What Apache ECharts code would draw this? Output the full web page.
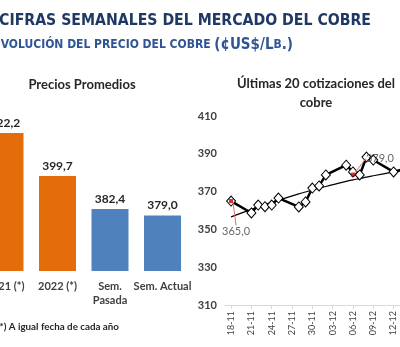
<!DOCTYPE html>
<html>
<head>
<meta charset="utf-8">
<script src="https://cdn.jsdelivr.net/npm/echarts@6/dist/echarts.min.js"></script>
<style>
  html, body { margin: 0; padding: 0; background: #fff; }
  #chart { width: 400px; height: 347px; }
</style>
</head>
<body>
<div id="chart"></div>
<script>
// Average prices (¢US$/lb)
const barCategories = ['2021 (*)', '2022 (*)', 'Sem.\nPasada', 'Sem. Actual'];
const barValues = [422.2, 399.7, 382.4, 379.0];

// Last 20 daily quotations
const quoteDates = [
  '2022-11-18', '2022-11-21', '2022-11-22', '2022-11-23', '2022-11-24', '2022-11-25',
  '2022-11-28', '2022-11-29', '2022-11-30', '2022-12-01', '2022-12-02',
  '2022-12-05', '2022-12-06', '2022-12-07', '2022-12-08', '2022-12-09',
  '2022-12-12', '2022-12-13', '2022-12-14', '2022-12-15'
];
const quoteValues = [
  365.0, 358.7, 362.9, 362.0, 362.9, 366.6,
  361.9, 364.5, 371.9, 373.0, 378.8,
  384.0, 380.4, 378.8, 388.3, 386.7,
  380.4, 381.5, 380.0, 374.0
];
// Polynomial trend of the quotations
const trendValues = [
  356.6, 360.6, 361.8, 363.1, 364.3, 365.4,
  368.8, 369.8, 370.8, 371.8, 372.7,
  375.4, 376.2, 376.9, 377.7, 378.4,
  380.4, 381.0, 381.5, 382.0
];
// Labelled reference points
const highlightDates = ['2022-11-18', '2022-12-06'];
const highlightValues = [365.0, 379.0];

const dateTicks = [
  '2022-11-18', '2022-11-21', '2022-11-24', '2022-11-27', '2022-11-30',
  '2022-12-03', '2022-12-06', '2022-12-09', '2022-12-12'
];

const DAY = 86400000;
const dayNum = s => Date.UTC(+s.slice(0, 4), +s.slice(5, 7) - 1, +s.slice(8, 10)) / DAY;
const fmt = v => v.toFixed(1).replace('.', ',');
const ddmm = n => {
  const d = new Date(Math.round(n) * DAY);
  const dd = String(d.getUTCDate()).padStart(2, '0');
  const mm = String(d.getUTCMonth() + 1).padStart(2, '0');
  return dd + '-' + mm;
};

const ORANGE = '#E46C0A';
const BLUE = '#4F81BD';
const FONT = 'Lato, "Open Sans", sans-serif';
const HEAD = '"DejaVu Sans Condensed", "DejaVu Sans", sans-serif';
const firstDay = dayNum(quoteDates[0]);
const barSlots = barCategories.map((c, i) => i);

const chart = echarts.init(document.getElementById('chart'), null, { renderer: 'canvas' });

chart.setOption({
  animation: false,
  backgroundColor: '#fff',
  textStyle: { fontFamily: FONT },
  graphic: [
    {
      type: 'text', x: 371, y: 21,
      style: {
        text: 'CIFRAS SEMANALES DEL MERCADO DEL COBRE',
        font: 'bold 15.7px ' + HEAD, fill: '#203864',
        align: 'right', verticalAlign: 'middle'
      }
    },
    {
      type: 'text', x: 293, y: 45,
      style: {
        text: '{s|EVOLUCIÓN DEL PRECIO DEL COBRE }{b|(¢US$/L}{s|B}{b|.)}',
        align: 'right', verticalAlign: 'middle',
        rich: {
          s: { font: 'bold 12px ' + HEAD, fill: '#2F5597' },
          b: { font: 'bold 15px ' + HEAD, fill: '#2F5597' }
        }
      }
    },
    {
      type: 'text', x: 82, y: 85,
      style: {
        text: 'Precios Promedios', font: 'bold 13px ' + FONT, fill: '#262626',
        align: 'center', verticalAlign: 'middle'
      }
    },
    {
      type: 'text', x: 316, y: 93,
      style: {
        text: 'Últimas 20 cotizaciones del\ncobre', font: 'bold 13px ' + FONT, fill: '#262626',
        align: 'center', verticalAlign: 'middle', lineHeight: 19
      }
    },
    {
      type: 'text', x: 119, y: 327,
      style: {
        text: '(*) A igual fecha de cada año', font: 'bold 9.8px ' + FONT, fill: '#262626',
        align: 'right', verticalAlign: 'middle'
      }
    }
  ],
  grid: [
    { left: 0, width: 200, top: 99, height: 172, outerBoundsMode: 'none' },
    { left: 225, right: 0, top: 116, height: 189, outerBoundsMode: 'none' }
  ],
  xAxis: [
    {
      type: 'value', gridIndex: 0, min: -0.095, max: 3.714,
      splitLine: { show: false }, axisLine: { show: false }, axisTick: { show: false },
      axisLabel: {
        customValues: barSlots,
        formatter: v => barCategories[Math.round(v)],
        margin: 8, fontSize: 11, fontWeight: 'bold', color: '#404040',
        lineHeight: 14, fontFamily: FONT
      }
    },
    {
      type: 'value', gridIndex: 1,
      min: firstDay - 0.9, max: firstDay + 24.95,
      splitLine: { show: false },
      axisLine: { lineStyle: { color: '#d9d9d9', width: 1 } },
      axisTick: {
        show: true, length: 4, lineStyle: { color: '#d9d9d9' },
        customValues: dateTicks.map(dayNum)
      },
      axisLabel: {
        customValues: dateTicks.map(dayNum),
        rotate: 90, margin: 6, fontSize: 9, color: '#404040', fontFamily: FONT,
        formatter: v => ddmm(v)
      }
    }
  ],
  yAxis: [
    { type: 'value', gridIndex: 0, min: 350, max: 440, show: false },
    {
      type: 'value', gridIndex: 1, min: 310, max: 410, interval: 20,
      splitLine: { show: false }, axisLine: { show: false }, axisTick: { show: false },
      axisLabel: { margin: 8, fontSize: 11, fontWeight: 'bold', color: '#404040', fontFamily: FONT }
    }
  ],
  series: [
    {
      type: 'bar', xAxisIndex: 0, yAxisIndex: 0, barWidth: 37,
      data: barValues.map((v, i) => ({ value: [barSlots[i], v], itemStyle: { color: i < 2 ? ORANGE : BLUE } })),
      label: {
        show: true, position: 'top', distance: 4,
        formatter: p => fmt(p.value[1]),
        fontSize: 12, fontWeight: 'bold', color: '#262626', fontFamily: FONT
      }
    },
    {
      type: 'line', xAxisIndex: 1, yAxisIndex: 1, smooth: true, symbol: 'none', z: 2,
      data: quoteDates.map((d, i) => [dayNum(d), trendValues[i]]),
      lineStyle: { color: '#000', width: 1.2 }
    },
    {
      type: 'line', xAxisIndex: 1, yAxisIndex: 1, z: 3,
      data: quoteDates.map((d, i) => [dayNum(d), quoteValues[i]]),
      symbol: 'diamond', symbolSize: [9, 10], showAllSymbol: true,
      lineStyle: { color: '#000', width: 2.5 },
      itemStyle: { color: '#fff', borderColor: '#000', borderWidth: 1 }
    },
    {
      type: 'scatter', xAxisIndex: 1, yAxisIndex: 1, z: 4,
      data: highlightDates.map((d, i) => [dayNum(d), highlightValues[i]]),
      symbol: 'rect', symbolSize: 4,
      itemStyle: { color: '#C00000' },
      label: {
        show: true, position: 'inside',
        formatter: p => fmt(p.value[1]),
        fontSize: 11, color: '#404040', fontFamily: FONT
      },
      labelLayout: p => p.dataIndex === 0 ? { dx: 5, dy: 30 } : { dx: 27, dy: -16 },
      labelLine: { show: true, lineStyle: { color: '#E07070', width: 1 } }
    }
  ]
});
</script>
</body>
</html>
